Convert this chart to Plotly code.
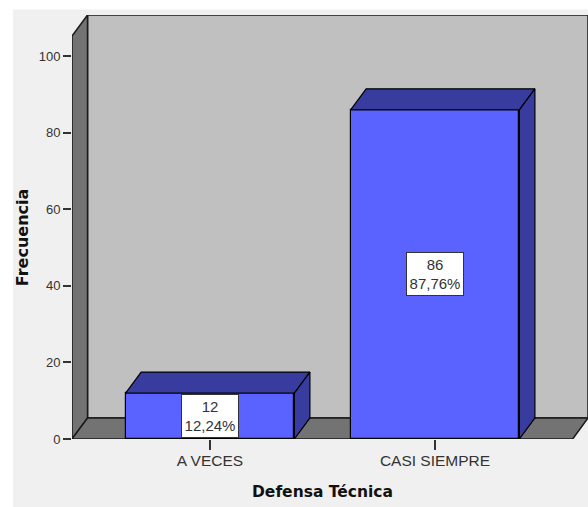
import plotly.graph_objects as go

categories = ["A VECES", "CASI SIEMPRE"]
counts = [12, 86]
percents = ["12,24%", "87,76%"]
y_ticks = [0, 20, 40, 60, 80, 100]

WIDTH, HEIGHT = 588, 507
BAR_FRONT = "#5a62ff"
BAR_DARK = "#383c9e"
WALL_BACK = "#c0c0c0"
WALL_SIDE = "#737373"
EDGE = "#1a1a1a"
FONT = "Liberation Sans"
TITLE_FONT = "DejaVu Sans"

# 3D look: depth of the box in axis units, half width of a bar in categories
depth_x = 0.069
depth_y = 5.5
half_bar = 0.375
x_min, x_front_max, x_max = -0.6133, 1.612, 1.68
y_max = 110.8
y_front_max = y_max - depth_y


def poly_path(points):
    return "M " + " L ".join(f"{x},{y}" for x, y in points) + " Z"


def wall_shape(points, color):
    return dict(
        type="path",
        path=poly_path(points),
        xref="x",
        yref="y",
        layer="below",
        fillcolor=color,
        line=dict(color=EDGE, width=1.5),
    )


fig = go.Figure()

fig.add_trace(
    go.Bar(
        x=[0, 1],
        y=counts,
        width=half_bar * 2,
        marker=dict(color=BAR_FRONT, line=dict(color="#000000", width=1.2)),
        showlegend=False,
    )
)

# top and side faces of each bar
for i, value in enumerate(counts):
    left, right = i - half_bar, i + half_bar
    top_x = [left, right, right + depth_x, left + depth_x, left]
    top_y = [value, value, value + depth_y, value + depth_y, value]
    side_x = [right, right + depth_x, right + depth_x, right, right]
    side_y = [0, depth_y, value + depth_y, value, 0]
    for xs, ys in ((top_x, top_y), (side_x, side_y)):
        fig.add_trace(
            go.Scatter(
                x=xs,
                y=ys,
                mode="lines",
                fill="toself",
                fillcolor=BAR_DARK,
                line=dict(color="#000000", width=1.2),
                hoverinfo="skip",
                showlegend=False,
            )
        )

shapes = [
    # grey panel behind the whole chart
    dict(
        type="rect",
        xref="paper",
        yref="paper",
        x0=(13 - 72) / (WIDTH - 72),
        x1=1,
        y0=-68 / (HEIGHT - 68 - 14.5),
        y1=1 + 5.5 / (HEIGHT - 68 - 14.5),
        layer="below",
        fillcolor="#f0f0f0",
        line=dict(width=0),
    ),
    wall_shape(
        [(x_min + depth_x, depth_y), (x_max, depth_y), (x_max, y_max), (x_min + depth_x, y_max)],
        WALL_BACK,
    ),
    wall_shape(
        [(x_min, 0), (x_min + depth_x, depth_y), (x_min + depth_x, y_max), (x_min, y_front_max)],
        WALL_SIDE,
    ),
    wall_shape(
        [(x_min, 0), (x_front_max, 0), (x_max, depth_y), (x_min + depth_x, depth_y)],
        WALL_SIDE,
    ),
]

annotations = [
    dict(
        x=i,
        y=value / 2,
        xref="x",
        yref="y",
        text=f"{value}<br>{percents[i]}",
        showarrow=False,
        width=54,
        height=40,
        bgcolor="#ffffff",
        bordercolor="#333333",
        borderwidth=1,
        borderpad=1,
        font=dict(family=FONT, size=15, color="#333333"),
    )
    for i, value in enumerate(counts)
]

# axis titles sit off-centre from the plot area, so they are placed by hand
annotations.append(
    dict(
        x=(322 - 72) / (WIDTH - 72),
        y=-53 / (HEIGHT - 68 - 14.5),
        xref="paper",
        yref="paper",
        xanchor="center",
        yanchor="middle",
        text="<b>Defensa Técnica</b>",
        showarrow=False,
        font=dict(family=TITLE_FONT, size=15.5, color="#111111"),
    )
)
annotations.append(
    dict(
        x=(22 - 72) / (WIDTH - 72),
        y=(439 - 237) / (HEIGHT - 68 - 14.5),
        xref="paper",
        yref="paper",
        xanchor="center",
        yanchor="middle",
        text="<b>Frecuencia</b>",
        textangle=-90,
        showarrow=False,
        font=dict(family=TITLE_FONT, size=16, color="#111111"),
    )
)

fig.update_layout(
    width=WIDTH,
    height=HEIGHT,
    autosize=False,
    margin=dict(l=72, r=0, t=14.5, b=68, pad=0),
    paper_bgcolor="#ffffff",
    plot_bgcolor="rgba(0,0,0,0)",
    shapes=shapes,
    annotations=annotations,
    showlegend=False,
    bargap=0,
    xaxis=dict(
        range=[x_min, x_max],
        tickvals=[0, 1],
        ticktext=categories,
        ticks="outside",
        ticklen=10,
        tickwidth=1.5,
        tickcolor="#333333",
        tickfont=dict(family=FONT, size=15.5, color="#333333"),
        ticklabelstandoff=-3,
        showgrid=False,
        zeroline=False,
        showline=False,
    ),
    yaxis=dict(
        range=[0, y_max],
        tickvals=y_ticks,
        ticks="outside",
        ticklen=8,
        tickwidth=1.5,
        tickcolor="#333333",
        tickfont=dict(family=FONT, size=13, color="#333333"),
        showgrid=False,
        zeroline=False,
        showline=False,
    ),
)

fig.write_html(
    "out.html",
    config={"displayModeBar": False},
    post_script="document.body.style.margin = '0';",
)
